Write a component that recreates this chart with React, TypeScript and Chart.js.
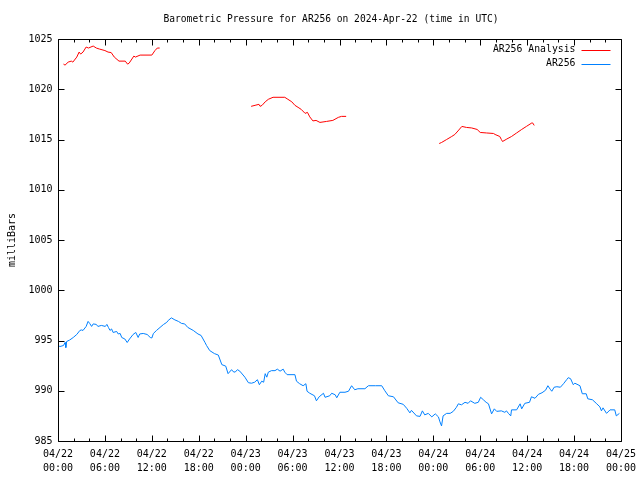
import React, { useEffect, useRef } from "react";
import { Chart, registerables } from "chart.js";

Chart.register(...registerables);

const TITLE = "Barometric Pressure for AR256 on 2024-Apr-22 (time in UTC)";
const Y_LABEL = "milliBars";
const X_TICK_HOURS = [0, 6, 12, 18, 24, 30, 36, 42, 48, 54, 60, 66, 72];
const X_TICK_DATES = ["04/22", "04/22", "04/22", "04/22", "04/23", "04/23", "04/23", "04/23", "04/24", "04/24", "04/24", "04/24", "04/25"];
const X_TICK_TIMES = ["00:00", "06:00", "12:00", "18:00", "00:00", "06:00", "12:00", "18:00", "00:00", "06:00", "12:00", "18:00", "00:00"];
const X_MINOR_STEP_HOURS = 2;
const Y_TICKS = [985, 990, 995, 1000, 1005, 1010, 1015, 1020, 1025];

const SERIES_NAMES = ["AR256 Analysis", "AR256"];
const SERIES_COLORS = ["#ff0000", "#0080ff"];

// hours since 2024-04-22 00:00 UTC ; null = gap
const ANALYSIS_HOURS = [
  0.7, 0.9, 1.3, 1.7, 1.9, 2.4, 2.7, 2.9, 3.2, 3.6, 3.9, 4.5, 4.9, 5.3, 6.0, 6.4, 6.8, 7.2, 7.8, 8.6, 8.9, 9.1, 9.7, 9.9, 10.5, 12.0, 12.4, 12.7, 13.0,
  18.0,
  24.7, 25.2, 25.7, 25.85, 26.1, 26.5, 26.9, 27.5, 29.0, 29.4, 29.9, 30.3, 30.7, 31.1, 31.6, 31.9, 32.2, 32.6, 33.0, 33.5, 34.35, 35.15, 35.85, 36.25, 36.85,
  42.0,
  48.75, 49.05, 49.7, 50.35, 50.75, 51.15, 51.65, 52.25, 52.9, 53.6, 54.0, 54.8, 55.7, 55.9, 56.5, 56.7, 56.85, 57.4, 58.0, 58.65, 59.3, 59.9, 60.6, 60.7, 60.9,
];
const ANALYSIS_MB = [
  1022.5, 1022.4, 1022.7, 1022.8, 1022.7, 1023.2, 1023.7, 1023.5, 1023.7, 1024.2, 1024.1, 1024.3, 1024.1, 1024.0, 1023.85, 1023.7, 1023.65, 1023.2, 1022.8, 1022.8, 1022.5, 1022.6, 1023.3, 1023.2, 1023.4, 1023.4, 1023.85, 1024.1, 1024.1,
  null,
  1018.3, 1018.4, 1018.5, 1018.3, 1018.4, 1018.75, 1019.0, 1019.2, 1019.2, 1019.0, 1018.75, 1018.4, 1018.2, 1018.0, 1017.6, 1017.7, 1017.25, 1016.85, 1016.9, 1016.7, 1016.8, 1016.9, 1017.2, 1017.3, 1017.3,
  null,
  1014.6, 1014.7, 1015.0, 1015.3, 1015.5, 1015.85, 1016.3, 1016.2, 1016.15, 1016.0, 1015.7, 1015.65, 1015.6, 1015.5, 1015.3, 1015.0, 1014.8, 1015.05, 1015.3, 1015.65, 1016.0, 1016.3, 1016.65, 1016.65, 1016.4,
];

const OBS_HOURS = [
  0.0, 0.25, 0.7, 0.9, 1.0, 1.1, 1.5, 1.95, 2.4, 2.8, 3.0, 3.2, 3.6, 3.85, 4.05, 4.3, 4.5, 4.9, 5.1, 5.55, 6.05, 6.25, 6.45, 6.65, 6.85, 7.05, 7.5, 7.7, 7.95, 8.15, 8.55, 8.85, 9.15, 9.6, 9.95,
  10.25, 10.45, 10.9, 11.4, 11.8, 12.0, 12.2, 12.6, 13.05, 13.5, 13.9, 14.1, 14.5, 14.95, 15.4, 15.8, 16.2, 16.6, 17.3, 17.9, 18.3, 18.8, 19.0, 19.4, 20.0, 20.5, 20.95, 21.45, 21.75,
  22.2, 22.4, 22.65, 22.95, 23.25, 23.9, 24.35, 24.75, 25.15, 25.5, 25.75, 26.05, 26.3, 26.5, 26.7, 26.9, 27.3, 27.75, 28.05, 28.4, 28.8, 29.0, 29.3, 30.3, 30.5, 30.9, 31.35, 31.7, 31.85,
  32.2, 32.8, 33.05, 33.4, 33.95, 34.15, 34.75, 35.0, 35.45, 35.65, 36.05, 36.7, 37.15, 37.55, 37.95, 38.35, 39.25, 39.7, 40.6, 41.4, 41.8, 42.25, 42.9, 43.5, 44.15, 44.6, 45.0, 45.2,
  45.85, 46.3, 46.6, 46.9, 47.35, 47.8, 48.25, 48.65, 48.85, 49.05, 49.25, 49.7, 50.15, 50.55, 50.95, 51.2, 51.6, 52.05, 52.45, 52.75, 53.3, 53.75, 54.05, 54.4, 54.75, 55.05, 55.45,
  55.8, 56.1, 56.7, 57.15, 57.35, 57.6, 57.9, 58.0, 58.65, 59.1, 59.3, 59.7, 60.3, 60.55, 61.0, 61.45, 61.9, 62.35, 62.65, 62.95, 63.15, 63.45, 63.8, 64.25, 64.65, 65.05, 65.25,
  65.55, 65.9, 66.1, 66.75, 67.05, 67.55, 67.75, 68.35, 68.9, 69.3, 69.5, 69.7, 70.15, 70.6, 71.2, 71.4, 71.8,
];
const OBS_MB = [
  994.5, 994.4, 994.5, 994.8, 994.3, 994.9, 995.05, 995.3, 995.6, 996.0, 996.05, 996.0, 996.4, 996.9, 996.7, 996.4, 996.65, 996.6, 996.4, 996.5, 996.4, 996.6, 996.3, 996.0, 996.15, 995.8, 995.9, 995.65, 995.7, 995.3, 995.15, 994.8, 995.15, 995.6, 995.8,
  995.3, 995.65, 995.7, 995.6, 995.3, 995.25, 995.7, 996.0, 996.3, 996.6, 996.8, 997.0, 997.25, 997.05, 996.9, 996.7, 996.65, 996.3, 996.0, 995.65, 995.5, 994.8, 994.5, 994.0, 993.7, 993.55, 992.6, 992.45, 991.7,
  992.1, 991.9, 991.85, 992.1, 991.95, 991.35, 990.8, 990.75, 990.85, 991.1, 990.6, 990.95, 990.85, 991.7, 991.35, 991.85, 992.0, 992.0, 992.15, 991.95, 992.15, 991.85, 991.6, 991.6, 990.95, 990.7, 990.5, 990.7, 989.95,
  989.75, 989.5, 989.0, 989.4, 989.75, 989.35, 989.5, 989.75, 989.6, 989.3, 989.85, 989.85, 989.95, 990.5, 990.1, 990.2, 990.2, 990.5, 990.5, 990.5, 990.0, 989.5, 989.4, 988.8, 988.65, 988.25, 987.8, 988.05,
  987.5, 987.45, 988.0, 987.6, 987.75, 987.4, 987.7, 987.4, 986.9, 986.5, 987.5, 987.75, 987.75, 987.95, 988.35, 988.7, 988.6, 988.85, 988.75, 989.0, 988.75, 988.85, 989.35, 989.1, 988.85, 988.7, 987.7,
  988.2, 987.95, 988.0, 987.85, 988.0, 987.75, 987.5, 988.1, 988.1, 988.7, 988.2, 988.75, 988.85, 989.4, 989.25, 989.65, 989.8, 990.05, 990.5, 990.15, 989.95, 990.35, 990.4, 990.35, 990.7, 991.1, 991.3,
  991.2, 990.6, 990.75, 990.5, 989.7, 989.7, 989.2, 989.1, 988.7, 988.4, 988.0, 988.3, 987.75, 988.1, 988.1, 987.5, 987.75,
];

const FONT = '"DejaVu Sans Mono", "Liberation Mono", monospace';

const gnuplotFrame = {
  id: "gnuplotFrame",
  afterDraw(chart: any) {
    const ctx = chart.ctx;
    const area = chart.chartArea;
    const xs = chart.scales.x;
    const ys = chart.scales.y;
    const L = Math.round(area.left) + 0.5;
    const R = Math.round(area.right) + 0.5;
    const T = Math.round(area.top) + 0.5;
    const B = Math.round(area.bottom) + 0.5;
    ctx.save();
    ctx.strokeStyle = "#000";
    ctx.lineWidth = 1;
    ctx.beginPath();
    ctx.rect(L, T, R - L, B - T);
    // x ticks (major + minor), inward on bottom and top
    for (let h = xs.min; h <= xs.max + 1e-9; h += X_MINOR_STEP_HOURS) {
      const px = Math.round(xs.getPixelForValue(h)) + 0.5;
      const major = X_TICK_HOURS.includes(h);
      const len = major ? 6 : 3;
      ctx.moveTo(px, B);
      ctx.lineTo(px, B - len);
      ctx.moveTo(px, T);
      ctx.lineTo(px, T + len);
    }
    for (const v of Y_TICKS) {
      const py = Math.round(ys.getPixelForValue(v)) + 0.5;
      ctx.moveTo(L, py);
      ctx.lineTo(L + 6, py);
      ctx.moveTo(R, py);
      ctx.lineTo(R - 6, py);
    }
    ctx.stroke();

    ctx.fillStyle = "#000";
    ctx.font = "10px " + FONT;
    ctx.textBaseline = "middle";
    ctx.textAlign = "right";
    for (const v of Y_TICKS) {
      ctx.fillText(String(v), L - 6, ys.getPixelForValue(v));
    }
    ctx.textAlign = "center";
    X_TICK_HOURS.forEach((h, i) => {
      const px = xs.getPixelForValue(h);
      ctx.fillText(X_TICK_DATES[i], px, B + 13);
      ctx.fillText(X_TICK_TIMES[i], px, B + 27);
    });

    ctx.font = "9.6px " + FONT;
    ctx.fillText(TITLE, 331, 19);

    ctx.save();
    ctx.translate(12, (area.top + area.bottom) / 2);
    ctx.rotate(-Math.PI / 2);
    ctx.font = "10px " + FONT;
    ctx.fillText(Y_LABEL, 0, 0);
    ctx.restore();

    // legend
    ctx.font = "9.8px " + FONT;
    ctx.textAlign = "right";
    chart.data.datasets.forEach((ds: any, i: number) => {
      const y = T + 10 + i * 14;
      ctx.fillStyle = "#000";
      ctx.fillText(ds.label, R - 46, y);
      ctx.strokeStyle = ds.borderColor;
      ctx.beginPath();
      ctx.moveTo(R - 40, Math.round(y) + 0.5);
      ctx.lineTo(R - 11, Math.round(y) + 0.5);
      ctx.stroke();
    });
    ctx.restore();
  },
};

export default function App() {
  const ref = useRef<HTMLCanvasElement | null>(null);
  useEffect(() => {
    const canvas = ref.current;
    if (!canvas) return;
    const chart = new Chart(canvas, {
      type: "line",
      data: {
        datasets: [
          {
            label: SERIES_NAMES[0],
            data: ANALYSIS_HOURS.map((h, i) => ({ x: h, y: ANALYSIS_MB[i] })) as any,
            borderColor: SERIES_COLORS[0],
            borderWidth: 1,
            pointRadius: 0,
            tension: 0,
            spanGaps: false,
          },
          {
            label: SERIES_NAMES[1],
            data: OBS_HOURS.map((h, i) => ({ x: h, y: OBS_MB[i] })) as any,
            borderColor: SERIES_COLORS[1],
            borderWidth: 1,
            pointRadius: 0,
            tension: 0,
          },
        ],
      },
      options: {
        animation: false,
        responsive: false,
        devicePixelRatio: 1,
        layout: { padding: { left: 58, right: 19, top: 39, bottom: 39 } },
        plugins: { legend: { display: false }, title: { display: false }, tooltip: { enabled: false } },
        scales: {
          x: { type: "linear", min: 0, max: 72, display: false },
          y: { type: "linear", min: 985, max: 1025, display: false },
        },
      },
      plugins: [gnuplotFrame],
    });
    return () => chart.destroy();
  }, []);
  return (
    <canvas
      ref={ref}
      width={640}
      height={480}
      style={{ position: "absolute", left: 0, top: 0, width: 640, height: 480, background: "#fff" }}
    />
  );
}
